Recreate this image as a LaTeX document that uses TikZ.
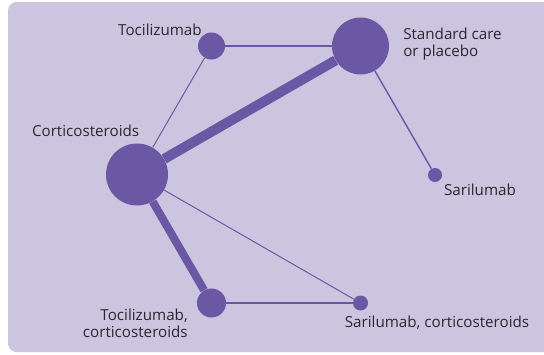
\documentclass[tikz,border=0pt]{standalone}
\usepackage{fontspec}
\setmainfont{Open Sans}
\usepackage{xcolor}
\definecolor{bgl}{HTML}{CBC5E0}
\definecolor{trt}{HTML}{6A58A4}
\definecolor{txt}{HTML}{2A282E}

\begin{document}
\begin{tikzpicture}[
  tnode/.style={circle,fill=trt,inner sep=0pt,minimum size=#1},
  lnk/.style={trt,line width=#1},
  lab/.style={text=txt,inner sep=0pt,font=\fontsize{10.8}{12.2}\selectfont}]
% canvas
\useasboundingbox (0,0) rectangle (13.6,8.85);
\clip (0,0) rectangle (13.6,8.85);
\fill[bgl,rounded corners=6pt] (0.2,0.05) rectangle (14.2,8.8);
% treatments
\node[tnode=0.675cm] (toci) at (5.2875,7.70) {};
\node[tnode=1.425cm] (soc) at (9.0125,7.70) {};
\node[tnode=1.55cm] (cort) at (3.425,4.4875) {};
\node[tnode=0.35cm] (sari) at (10.875,4.475) {};
\node[tnode=0.725cm] (tocicort) at (5.2875,1.275) {};
\node[tnode=0.375cm] (saricort) at (9.0125,1.275) {};
% comparisons
\draw[lnk=7.1pt] (cort) -- (soc);
\draw[lnk=5.7pt] (cort) -- (tocicort);
\draw[lnk=2.1pt] (toci) -- (soc);
\draw[lnk=1.8pt] (tocicort) -- (saricort);
\draw[lnk=1pt] (soc) -- (sari);
\draw[lnk=0.7pt] (cort) -- (toci);
\draw[lnk=0.7pt] (cort) -- (saricort);
% labels
\node[lab,anchor=east] (tocilab) at (5.05,8.10) {Tocilizumab};
\node[lab] (cortlab) at (2.14,5.575) {Corticosteroids};
\node[lab,anchor=west,align=left] (soclab) at (10.075,7.74) {Standard care\\or placebo};
\node[lab] (sarilab) at (12.0,4.10) {Sarilumab};
\node[lab,anchor=east,align=right] (tocicortlab) at (4.70,0.76) {Tocilizumab,\\corticosteroids};
\node[lab] (saricortlab) at (10.925,0.775) {Sarilumab, corticosteroids};
\end{tikzpicture}
\end{document}
